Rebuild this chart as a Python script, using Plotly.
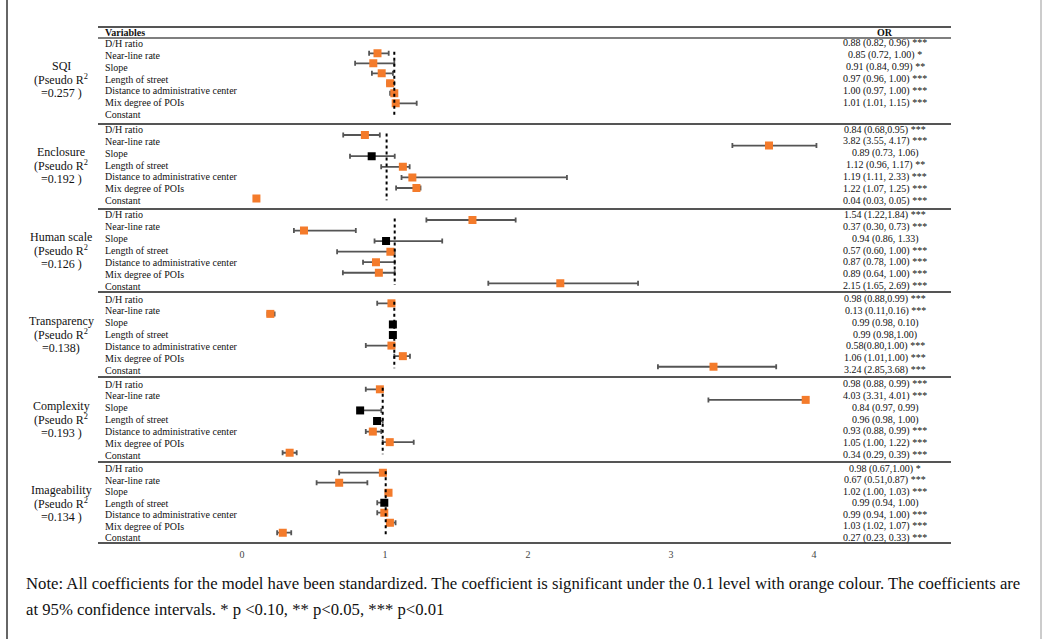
import plotly.graph_objects as go

W, H = 1044, 639

# ---------------- data ----------------
variables = ["D/H ratio", "Near-line rate", "Slope", "Length of street",
             "Distance to administrative center", "Mix degree of POIs", "Constant"]
models = ["SQI", "Enclosure", "Human scale", "Transparency", "Complexity", "Imageability"]
pseudo_r2 = ["=0.257 )", "=0.192 )", "=0.126 )", "=0.138)", "=0.193 )", "=0.134 )"]

# odds ratios and 95% CI as drawn in each panel
sqi_or = [0.88, 0.85, 0.91, 0.97, 1.00, 1.01, None]
sqi_lo = [0.82, 0.72, 0.84, 0.95, 0.97, 1.00, None]
sqi_hi = [0.96, 1.00, 0.99, 1.00, 1.01, 1.16, None]

enc_or = [0.84, 3.82, 0.89, 1.12, 1.19, 1.22, 0.04]
enc_lo = [0.68, 3.55, 0.73, 0.96, 1.11, 1.07, 0.03]
enc_hi = [0.95, 4.17, 1.06, 1.17, 2.33, 1.25, 0.05]

hum_or = [1.54, 0.37, 0.94, 0.97, 0.87, 0.89, 2.15]
hum_lo = [1.22, 0.30, 0.86, 0.60, 0.78, 0.64, 1.65]
hum_hi = [1.84, 0.73, 1.33, 1.00, 1.00, 1.00, 2.69]

tra_or = [0.98, 0.13, 0.99, 0.99, 0.98, 1.06, 3.24]
tra_lo = [0.88, 0.11, 0.98, 0.98, 0.80, 1.00, 2.85]
tra_hi = [0.99, 0.16, 1.00, 1.00, 1.00, 1.11, 3.68]

com_or = [0.98, 4.00, 0.84, 0.96, 0.93, 1.05, 0.34]
com_lo = [0.88, 3.31, 0.83, 0.95, 0.88, 1.00, 0.29]
com_hi = [0.99, 4.01, 0.99, 1.00, 0.99, 1.22, 0.39]

ima_or = [0.98, 0.67, 1.02, 0.99, 0.99, 1.03, 0.27]
ima_lo = [0.67, 0.51, 1.00, 0.94, 0.94, 1.02, 0.23]
ima_hi = [1.00, 0.87, 1.03, 1.00, 1.00, 1.07, 0.33]

# OR column text
sqi_txt = ["0.88 (0.82, 0.96) ***", "0.85 (0.72, 1.00) *", "0.91 (0.84, 0.99) **",
           "0.97 (0.96, 1.00) ***", "1.00 (0.97, 1.00) ***", "1.01 (1.01, 1.15) ***", ""]
enc_txt = ["0.84 (0.68,0.95) ***", "3.82 (3.55, 4.17) ***", "0.89 (0.73, 1.06)",
           "1.12 (0.96, 1.17) **", "1.19 (1.11, 2.33) ***", "1.22 (1.07, 1.25) ***",
           "0.04 (0.03, 0.05) ***"]
hum_txt = ["1.54 (1.22,1.84) ***", "0.37 (0.30, 0.73) ***", "0.94 (0.86, 1.33)",
           "0.57 (0.60, 1.00) ***", "0.87 (0.78, 1.00) ***", "0.89 (0.64, 1.00) ***",
           "2.15 (1.65, 2.69) ***"]
tra_txt = ["0.98 (0.88,0.99) ***", "0.13 (0.11,0.16) ***", "0.99 (0.98, 0.10)",
           "0.99 (0.98,1.00)", "0.58(0.80,1.00) ***", "1.06 (1.01,1.00) ***",
           "3.24 (2.85,3.68) ***"]
com_txt = ["0.98 (0.88, 0.99) ***", "4.03 (3.31, 4.01) ***", "0.84 (0.97, 0.99)",
           "0.96 (0.98, 1.00)", "0.93 (0.88, 0.99) ***", "1.05 (1.00, 1.22) ***",
           "0.34 (0.29, 0.39) ***"]
ima_txt = ["0.98 (0.67,1.00) *", "0.67 (0.51,0.87) ***", "1.02 (1.00, 1.03) ***",
           "0.99 (0.94, 1.00)", "0.99 (0.94, 1.00) ***", "1.03 (1.02, 1.07) ***",
           "0.27 (0.23, 0.33) ***"]

tick_vals = [0, 1, 2, 3, 4]

note1 = ("Note: All coefficients for the model have been standardized. The coefficient is "
         "significant under the 0.1 level with orange colour. The coefficients are")
note2 = "at 95% confidence intervals. * p <0.10, ** p<0.05, *** p<0.01"

panels = [
    (sqi_or, sqi_lo, sqi_hi, sqi_txt),
    (enc_or, enc_lo, enc_hi, enc_txt),
    (hum_or, hum_lo, hum_hi, hum_txt),
    (tra_or, tra_lo, tra_hi, tra_txt),
    (com_or, com_lo, com_hi, com_txt),
    (ima_or, ima_lo, ima_hi, ima_txt),
]

# ---------------- layout geometry (pixels) ----------------
ORANGE = "#F47B2B"
SERIF = "Liberation Serif"
marker_first = [53.3, 135.0, 220.0, 303.3, 389.3, 472.7]
marker_step = [10.0, 10.6, 10.55, 10.57, 10.57, 10.0]
x_zero = [254.3, 251.0, 250.7, 251.8, 241.7, 244.7]
x_ppu = [140.0, 135.6, 144.0, 142.5, 141.0, 141.0]
text_first = [43.5, 129.5, 215.0, 299.0, 384.0, 468.5]
text_step = [11.85, 11.85, 11.85, 11.85, 11.85, 11.55]
label_gap = 13.5
sep_lines = [124, 209, 292, 377, 462, 543]
plot_left, plot_right = 240, 830
tab_left, tab_right = 98, 951


def px(x):
    return x / W


def py(y):
    return 1 - y / H


fig = go.Figure()
annotations = []
shapes = []
layout_axes = {}

for p, (est, lo, hi, txt) in enumerate(panels):
    k = "" if p == 0 else str(p + 1)
    rows = [i for i, v in enumerate(est) if v is not None]
    xs = [est[i] for i in rows]
    colors = [ORANGE if "*" in txt[i] else "black" for i in rows]
    fig.add_trace(go.Scatter(
        x=xs, y=rows, mode="markers",
        marker=dict(symbol="square", size=8, color=colors, line=dict(width=0)),
        error_x=dict(type="data", symmetric=False,
                     array=[hi[i] - est[i] for i in rows],
                     arrayminus=[est[i] - lo[i] for i in rows],
                     color="#555555", thickness=1.8, width=2.5),
        xaxis="x" + k, yaxis="y" + k, showlegend=False, hoverinfo="x"))
    f, s = marker_first[p], marker_step[p]
    layout_axes["xaxis" + k] = dict(
        domain=[px(plot_left), px(plot_right)],
        range=[(plot_left - x_zero[p]) / x_ppu[p], (plot_right - x_zero[p]) / x_ppu[p]],
        visible=False, anchor="y" + k)
    layout_axes["yaxis" + k] = dict(
        domain=[py(f + 6.5 * s), py(f - 0.5 * s)],
        range=[6.5, -0.5], visible=False, anchor="x" + k)
    shapes.append(dict(type="line", xref="x" + k, yref="y" + k, x0=1, x1=1,
                       y0=-0.15, y1=6.15, line=dict(color="black", width=2, dash="dot")))
    # table text
    for i, v in enumerate(variables):
        yy = text_first[p] + text_step[p] * i
        annotations.append(dict(x=px(103), y=py(yy), xref="paper", yref="paper",
                                text=v, showarrow=False, xanchor="left", yanchor="middle",
                                font=dict(family=SERIF, size=10, color="#111")))
        if txt[i]:
            annotations.append(dict(x=px(885), y=py(yy), xref="paper", yref="paper",
                                    text=txt[i], showarrow=False, xanchor="center",
                                    yanchor="middle",
                                    font=dict(family=SERIF, size=10, color="#111")))
    left_lines = [models[p], "(Pseudo R<sup>2</sup>", pseudo_r2[p]]
    mid = text_first[p] + text_step[p] * 3
    for j, t in enumerate(left_lines):
        yy = mid + label_gap * (j - 1)
        annotations.append(dict(x=px(61), y=py(yy), xref="paper", yref="paper",
                                text=t, showarrow=False, xanchor="center", yanchor="middle",
                                font=dict(family=SERIF, size=12, color="#111")))

# bottom tick axis
fig.add_trace(go.Scatter(x=tick_vals, y=[0] * len(tick_vals), mode="markers",
                         marker=dict(opacity=0), xaxis="x7", yaxis="y7",
                         showlegend=False, hoverinfo="skip"))
t_zero, t_ppu = 242.0, 143.0
layout_axes["xaxis7"] = dict(
    domain=[px(plot_left), px(plot_right)],
    range=[(plot_left - t_zero) / t_ppu, (plot_right - t_zero) / t_ppu],
    anchor="free", position=py(547), showline=False, showgrid=False, zeroline=False,
    ticks="", tickvals=tick_vals, ticktext=[str(v) for v in tick_vals],
    tickfont=dict(family=SERIF, size=10, color="#444"))
layout_axes["yaxis7"] = dict(domain=[0, 0.01], visible=False, anchor="x7")

# header
annotations.append(dict(x=px(103), y=py(32.5), xref="paper", yref="paper",
                        text="<b>Variables</b>", showarrow=False, xanchor="left",
                        yanchor="middle", font=dict(family=SERIF, size=10, color="#111")))
annotations.append(dict(x=px(885), y=py(32.5), xref="paper", yref="paper",
                        text="<b>OR</b>", showarrow=False, xanchor="center",
                        yanchor="middle", font=dict(family=SERIF, size=10, color="#111")))
# notes
for t, yy in [(note1, 583), (note2, 609)]:
    annotations.append(dict(x=px(24), y=py(yy), xref="paper", yref="paper", text=t,
                            showarrow=False, xanchor="left", yanchor="middle",
                            font=dict(family=SERIF, size=16.7, color="#111")))

# table rules
shapes.append(dict(type="line", xref="paper", yref="paper", x0=px(tab_left), x1=px(tab_right),
                   y0=py(27), y1=py(27), line=dict(color="#555", width=2)))
shapes.append(dict(type="line", xref="paper", yref="paper", x0=px(tab_left), x1=px(tab_right),
                   y0=py(38), y1=py(38), line=dict(color="#555", width=1.5)))
for yy in sep_lines:
    shapes.append(dict(type="line", xref="paper", yref="paper", x0=px(tab_left),
                       x1=px(tab_right), y0=py(yy), y1=py(yy),
                       line=dict(color="#555", width=1.8)))
# frame
shapes.append(dict(type="line", xref="paper", yref="paper", x0=px(7), x1=px(7),
                   y0=0, y1=1, line=dict(color="#333", width=1.5)))
shapes.append(dict(type="line", xref="paper", yref="paper", x0=px(1041), x1=px(1041),
                   y0=0, y1=1, line=dict(color="#bbb", width=1.5)))

fig.update_layout(
    width=W, height=H, autosize=False,
    margin=dict(l=0, r=0, t=0, b=0),
    paper_bgcolor="white", plot_bgcolor="white",
    annotations=annotations, shapes=shapes, **layout_axes)

fig.write_html("out.html", config={"displayModeBar": False},
               post_script="document.body.style.margin='0';document.body.style.padding='0';")
